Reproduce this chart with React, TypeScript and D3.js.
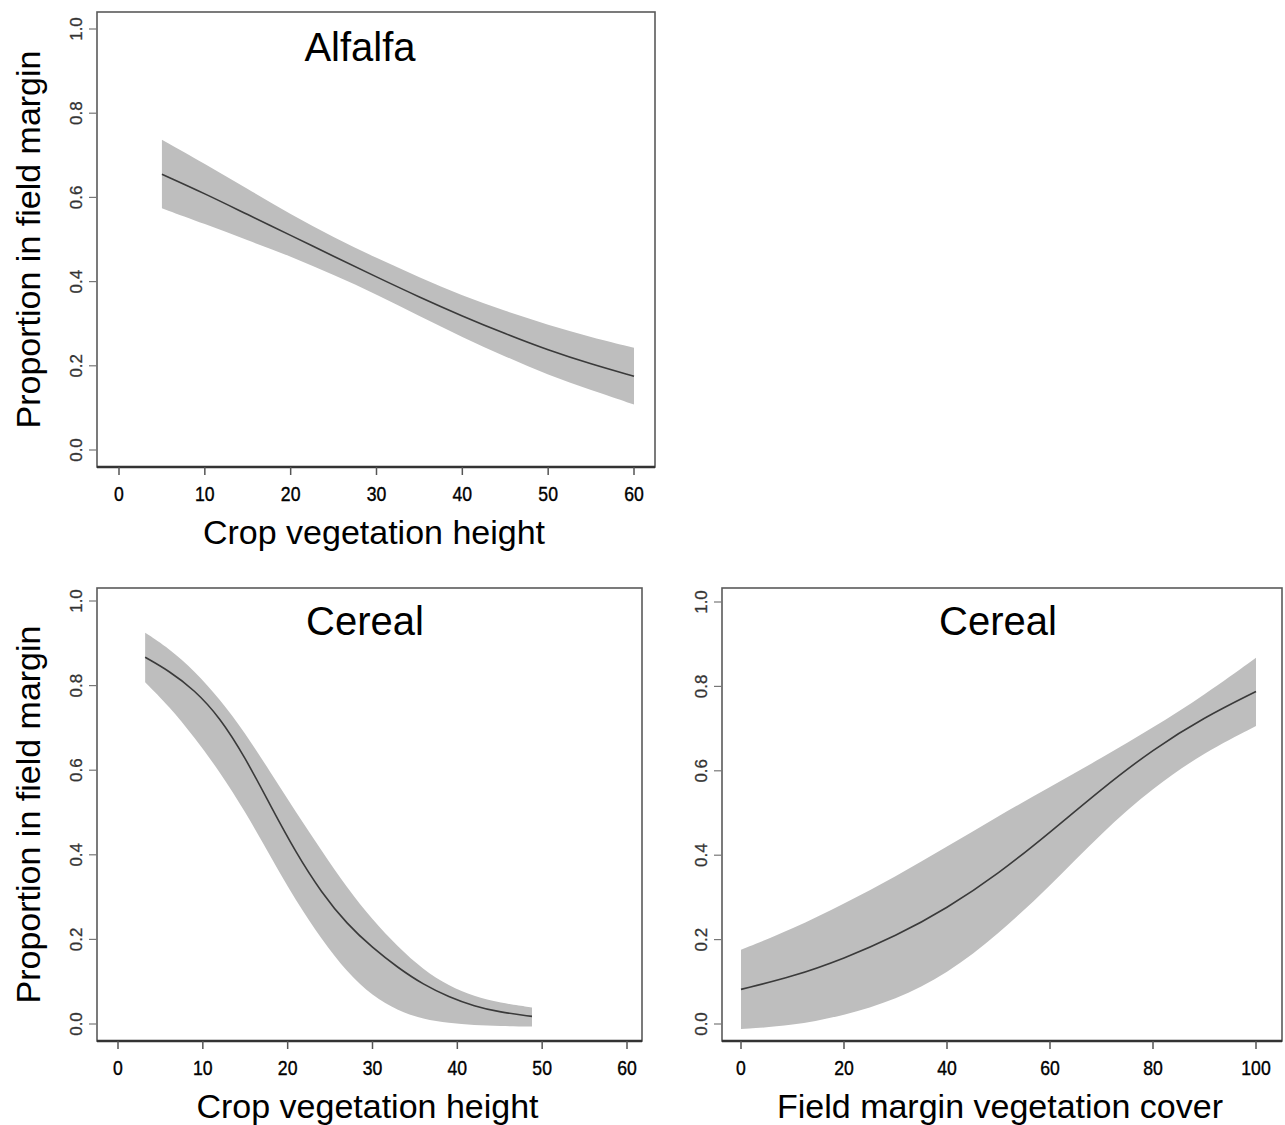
import React from 'react';
import * as d3 from 'd3';

// x values and fitted proportions
const alfalfaHeight = [5, 10, 15, 20, 25, 30, 35, 40, 45, 50, 55, 60];
const alfalfaFit = [0.655, 0.609, 0.559, 0.51, 0.46, 0.411, 0.363, 0.318, 0.276, 0.237, 0.204, 0.175];
const alfalfaUpper = [0.737, 0.68, 0.62, 0.56, 0.505, 0.456, 0.41, 0.366, 0.33, 0.297, 0.268, 0.243];
const alfalfaLower = [0.574, 0.537, 0.498, 0.46, 0.416, 0.37, 0.318, 0.268, 0.222, 0.178, 0.142, 0.108];

const cerealHeight = [3.2, 6, 9, 12, 15, 18, 21, 24, 27, 30, 33, 36, 39, 42, 45, 48.8];
const cerealHeightFit = [0.867, 0.835, 0.79, 0.725, 0.63, 0.515, 0.404, 0.31, 0.236, 0.18, 0.133, 0.093, 0.064, 0.042, 0.028, 0.018];
const cerealHeightUpper = [0.925, 0.888, 0.835, 0.768, 0.688, 0.594, 0.5, 0.41, 0.322, 0.246, 0.182, 0.128, 0.09, 0.065, 0.05, 0.039];
const cerealHeightLower = [0.808, 0.752, 0.678, 0.596, 0.502, 0.395, 0.29, 0.2, 0.122, 0.066, 0.031, 0.011, 0.002, -0.003, -0.005, -0.006];

const cerealCover = [0, 10, 20, 30, 40, 50, 60, 70, 80, 90, 100];
const cerealCoverFit = [0.082, 0.112, 0.155, 0.208, 0.274, 0.356, 0.454, 0.557, 0.651, 0.727, 0.788];
const cerealCoverUpper = [0.176, 0.225, 0.285, 0.349, 0.42, 0.493, 0.562, 0.63, 0.702, 0.78, 0.868];
const cerealCoverLower = [-0.012, -0.004, 0.02, 0.057, 0.118, 0.213, 0.327, 0.453, 0.56, 0.644, 0.706];

const heightTicks = [0, 10, 20, 30, 40, 50, 60];
const coverTicks = [0, 20, 40, 60, 80, 100];
const propTicks = [0, 0.2, 0.4, 0.6, 0.8, 1.0];

const FONT = 'Liberation Sans, Arial, Helvetica, sans-serif';

type PanelProps = {
  frame: [number, number, number, number]; // left, top, right, bottom
  xDomain: [number, number];
  xRange: [number, number];
  yRange: [number, number];
  xTicks: number[];
  xs: number[];
  fit: number[];
  upper: number[];
  lower: number[];
  title: string;
  titleX: number;
  titleY: number;
  xLabel: string;
  yLabel?: string;
};

const Panel = (p: PanelProps) => {
  const [left, top, right, bottom] = p.frame;
  const x = d3.scaleLinear().domain(p.xDomain).range(p.xRange);
  const y = d3.scaleLinear().domain([0, 1]).range(p.yRange);
  const idx = d3.range(p.xs.length);

  const band = d3.area<number>()
    .x(i => x(p.xs[i]))
    .y0(i => y(p.lower[i]))
    .y1(i => y(p.upper[i]))
    .curve(d3.curveBasis);
  const line = d3.line<number>()
    .x(i => x(p.xs[i]))
    .y(i => y(p.fit[i]))
    .curve(d3.curveBasis);

  const midY = (top + bottom) / 2;

  return (
    <g fontFamily={FONT}>
      <path d={band(idx) || ''} fill="#bebebe" />
      <path d={line(idx) || ''} fill="none" stroke="#3a3a3a" strokeWidth={1.6} />
      <rect x={left} y={top} width={right - left} height={bottom - top}
        fill="none" stroke="#5a5a5a" strokeWidth={1.6} />
      <line x1={left} x2={right} y1={bottom} y2={bottom} stroke="#333" strokeWidth={2.4} />

      {/* x axis */}
      {p.xTicks.map(t => (
        <g key={'x' + t}>
          <line x1={x(t)} x2={x(t)} y1={bottom} y2={bottom + 8} stroke="#555" strokeWidth={1.5} />
          <text transform={`translate(${x(t)},${bottom + 34}) scale(0.84,1)`} textAnchor="middle"
            fontSize={21} fill="#000" stroke="#000" strokeWidth={0.4}>{t}</text>
        </g>
      ))}

      {/* y axis */}
      {propTicks.map(t => (
        <g key={'y' + t}>
          <line x1={left - 8} x2={left} y1={y(t)} y2={y(t)} stroke="#777" strokeWidth={1.2} />
          <text transform={`translate(${left - 15},${y(t)}) rotate(-90)`} textAnchor="middle"
            fontSize={17} fill="#333" stroke="#333" strokeWidth={0.3}>{t.toFixed(1)}</text>
        </g>
      ))}

      <text x={p.titleX} y={p.titleY} textAnchor="middle" dominantBaseline="central"
        fontSize={40} fill="#000">{p.title}</text>
      <text x={(left + right) / 2 - 2} y={bottom + 65} textAnchor="middle" dominantBaseline="central"
        fontSize={34} fill="#000">{p.xLabel}</text>
      {p.yLabel && (
        <text transform={`translate(28,${midY}) rotate(-90)`} textAnchor="middle"
          dominantBaseline="central" fontSize={34} fill="#000">{p.yLabel}</text>
      )}
    </g>
  );
};

export default function App() {
  return (
    <svg width={1285} height={1125} style={{ position: 'absolute', left: 0, top: 0, background: '#fff' }}>
      <rect width={1285} height={1125} fill="#fff" />
      <Panel frame={[97, 12, 655, 467]} xDomain={[0, 60]} xRange={[119, 634]} yRange={[450, 29]}
        xTicks={heightTicks} xs={alfalfaHeight} fit={alfalfaFit} upper={alfalfaUpper} lower={alfalfaLower}
        title="Alfalfa" titleX={360} titleY={47} xLabel="Crop vegetation height"
        yLabel="Proportion in field margin" />
      <Panel frame={[97, 588, 642, 1041]} xDomain={[0, 60]} xRange={[118, 627]} yRange={[1024, 601]}
        xTicks={heightTicks} xs={cerealHeight} fit={cerealHeightFit} upper={cerealHeightUpper} lower={cerealHeightLower}
        title="Cereal" titleX={365} titleY={621} xLabel="Crop vegetation height"
        yLabel="Proportion in field margin" />
      <Panel frame={[722, 588, 1282, 1041]} xDomain={[0, 100]} xRange={[741, 1256]} yRange={[1024, 602]}
        xTicks={coverTicks} xs={cerealCover} fit={cerealCoverFit} upper={cerealCoverUpper} lower={cerealCoverLower}
        title="Cereal" titleX={998} titleY={621} xLabel="Field margin vegetation cover" />
    </svg>
  );
}
